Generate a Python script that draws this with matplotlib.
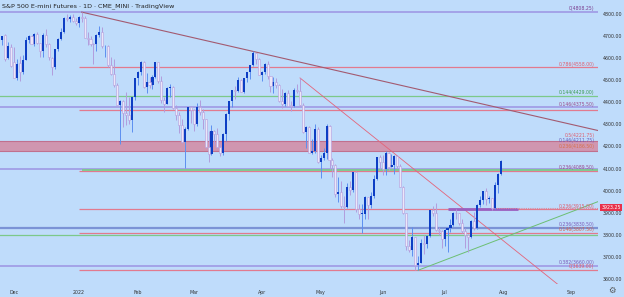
import matplotlib
matplotlib.use("Agg")
import matplotlib.pyplot as plt
import numpy as np

# -- Data ----------------------------------------------------------------------
# one bar per trading day: bar 0 = 2021-11-24, bar 169 = 2022-07-29
OPEN = [4680, 4705, 4600, 4650, 4580, 4512, 4578, 4538, 4592, 4684,
        4700, 4665, 4710, 4667, 4632, 4706, 4666, 4600, 4560, 4640,
        4688, 4718, 4782, 4776, 4784, 4769, 4758, 4786, 4781, 4692,
        4686, 4666, 4663, 4706, 4720, 4653, 4655, 4570, 4526, 4477,
        4389, 4406, 4350, 4342, 4318, 4425, 4508, 4539, 4584, 4470,
        4493, 4477, 4515, 4580, 4497, 4412, 4394, 4465, 4468, 4373,
        4342, 4298, 4220, 4281, 4378, 4367, 4300, 4380, 4358, 4323,
        4196, 4165, 4272, 4254, 4198, 4168, 4254, 4349, 4404, 4455,
        4452, 4503, 4448, 4511, 4535, 4567, 4623, 4594, 4524, 4538,
        4574, 4517, 4472, 4493, 4480, 4405, 4390, 4440, 4385, 4384,
        4455, 4452, 4388, 4266, 4290, 4170, 4178, 4280, 4128, 4149,
        4168, 4294, 4140, 4116, 3985, 3994, 3928, 3925, 4018, 4002,
        4083, 3918, 3895, 3896, 3969, 3936, 3975, 4053, 4153, 4129,
        4097, 4172, 4106, 4118, 4158, 4113, 4016, 3899, 3748, 3732,
        3788, 3665, 3674, 3763, 3758, 3793, 3910, 3898, 3820, 3817,
        3783, 3823, 3829, 3844, 3900, 3897, 3851, 3816, 3800, 3789,
        3862, 3830, 3936, 3959, 3997, 3962, 3966, 3923, 4025, 4074]
HIGH = [4702, 4708, 4672, 4662, 4652, 4596, 4608, 4612, 4694, 4705,
        4703, 4713, 4718, 4670, 4712, 4731, 4670, 4605, 4642, 4690,
        4735, 4785, 4800, 4797, 4799, 4780, 4790, 4808.25, 4790, 4718,
        4702, 4670, 4708, 4744, 4739, 4660, 4658, 4605, 4596, 4488,
        4412, 4408, 4448, 4423, 4426, 4510, 4541, 4588, 4587, 4533,
        4515, 4525, 4583, 4583, 4520, 4422, 4468, 4484, 4472, 4388,
        4356, 4323, 4289, 4378, 4382, 4370, 4395, 4410, 4368, 4325,
        4270, 4295, 4275, 4285, 4212, 4262, 4350, 4405, 4456, 4472,
        4514, 4505, 4511, 4538, 4569, 4631, 4625, 4600, 4540, 4576,
        4585, 4520, 4515, 4512, 4484, 4462, 4446, 4454, 4404, 4463,
        4482, 4508, 4395, 4292, 4293, 4232, 4300, 4290, 4163, 4194,
        4303, 4298, 4148, 4120, 4063, 4042, 3975, 4035, 4042, 4085,
        4088, 3940, 3938, 3976, 3972, 3995, 4070, 4154, 4162, 4163,
        4177, 4174, 4165, 4162, 4160, 4120, 4020, 3900, 3775, 3835,
        3790, 3706, 3779, 3799, 3800, 3912, 3928, 3945, 3836, 3820,
        3828, 3835, 3870, 3905, 3918, 3900, 3872, 3830, 3802, 3866,
        3903, 3940, 3974, 3998, 4013, 3975, 3968, 4040, 4080, 4140]
LOW = [4659, 4585, 4595, 4560, 4508, 4500, 4495, 4528, 4590, 4670,
       4662, 4655, 4664, 4606, 4605, 4650, 4590, 4522, 4550, 4630,
       4682, 4712, 4770, 4765, 4762, 4750, 4740, 4762, 4690, 4660,
       4655, 4575, 4630, 4696, 4645, 4607, 4560, 4522, 4468, 4387,
       4212.75, 4290, 4296, 4303, 4265, 4410, 4478, 4525, 4464, 4444,
       4465, 4459, 4512, 4485, 4395, 4358, 4390, 4423, 4368, 4320,
       4262, 4215, 4101, 4275, 4308, 4272, 4292, 4340, 4280, 4193,
       4130, 4160, 4205, 4194, 4155, 4160, 4225, 4320, 4380, 4415,
       4448, 4445, 4440, 4490, 4505, 4562, 4572, 4522, 4498, 4530,
       4505, 4445, 4440, 4466, 4400, 4375, 4385, 4382, 4362, 4378,
       4443, 4380, 4262, 4195, 4168, 4165, 4170, 4124, 4056, 4140,
       4142, 4100, 4060, 3970, 3950, 3922, 3855, 3920, 3978, 3995,
       3905, 3870, 3807.5, 3870, 3873, 3920, 3968, 4050, 4100, 4070,
       4070, 4095, 4105, 4075, 4104, 4014, 3895, 3732, 3720, 3705,
       3639.5, 3639, 3670, 3715, 3740, 3790, 3887, 3818, 3798, 3738,
       3750, 3723, 3813, 3838, 3872, 3845, 3810, 3741, 3721, 3785,
       3820, 3825, 3925, 3940, 3935, 3944, 3910, 3915, 3990, 4070]
CLOSE = [4699, 4594, 4653, 4566, 4511, 4575, 4536, 4590, 4684, 4700,
         4664, 4710, 4667, 4632, 4706, 4666, 4605, 4560, 4640, 4688,
         4718, 4782, 4776, 4784, 4769, 4758, 4786, 4781, 4692, 4686,
         4666, 4663, 4706, 4720, 4653, 4655, 4570, 4526, 4477, 4389,
         4406, 4350, 4342, 4318, 4425, 4508, 4539, 4584, 4470, 4493,
         4477, 4515, 4580, 4497, 4412, 4394, 4465, 4468, 4373, 4342,
         4298, 4220, 4281, 4378, 4367, 4300, 4380, 4358, 4323, 4196,
         4165, 4272, 4254, 4198, 4168, 4254, 4349, 4404, 4455, 4452,
         4503, 4448, 4511, 4535, 4567, 4623, 4594, 4524, 4538, 4574,
         4517, 4472, 4493, 4480, 4405, 4390, 4440, 4385, 4384, 4455,
         4452, 4388, 4266, 4290, 4170, 4178, 4280, 4128, 4149, 4168,
         4294, 4140, 4116, 3985, 3994, 3928, 3925, 4018, 4002, 4083,
         3918, 3895, 3896, 3969, 3936, 3975, 4053, 4153, 4129, 4097,
         4172, 4106, 4118, 4158, 4113, 4016, 3899, 3748, 3732, 3788,
         3665, 3674, 3763, 3758, 3793, 3910, 3898, 3820, 3817, 3783,
         3823, 3829, 3844, 3900, 3897, 3851, 3816, 3800, 3789, 3862,
         3830, 3936, 3959, 3997, 3962, 3966, 3923.25, 4025, 4074, 4132]

MONTH_BARS = [4, 26, 46, 65, 88, 108, 129, 150, 170, 193]
MONTH_LABELS = ["Dec", "2022", "Feb", "Mar", "Apr", "May", "Jun", "Jul", "Aug", "Sep"]
PRICE_TICKS = [3600, 3700, 3800, 3900, 4000, 4100, 4200, 4300, 4400, 4500, 4600, 4700, 4800]

# retracement levels drawn across the whole chart
FULL_PURPLE = [4808.25, 4379.50, 4099.00, 3660.00]
FULL_GREEN = [4429.00, 3800.00]
FULL_BLUE = [3830.50]
# retracement levels drawn from the 2022 open
JAN_RED = [4558.00, 4365.50, 4089.50, 3915.00, 3807.50, 3639.00]
JAN_GREEN = [4094.50]
ZONE = (4180.00, 4224.00)

FIB_TEXT = ["0(4808.25)", "0.786(4558.00)", "0.144(4429.00)", "0.146(4375.50)",
            "0.5(4221.75)", "0.146(4211.75)", "0.236(4186.50)", "0.236(4089.50)",
            "0.236(3915.00)", "0.236(3830.50)", "0.146(3807.50)", "0.382(3660.00)",
            "0(3639.00)"]
FIB_PRICE = [4808.25, 4558.00, 4429.00, 4375.50, 4221.75, 4211.75, 4186.50,
             4089.50, 3915.00, 3830.50, 3807.50, 3660.00, 3639.00]

# trendline anchors (bar, price)
TL_DOWN_BARS, TL_DOWN_PRICES = [27, 202], [4808.25, 4272]
TL_RED_BARS, TL_RED_PRICES = [101, 190], [4510, 3558]
TL_UP_BARS, TL_UP_PRICES = [141, 202], [3639, 3950]
SEG_BARS, SEG_PRICE = [151, 175], 3917
LAST_BAR, LAST_PRICE = 166, 3923.25

# -- Styles --------------------------------------------------------------------
BG = "#bfdcfb"
UP_BODY, UP_WICK = "#0d3ec4", "#5c8ff0"
DN_BODY, DN_EDGE = "#ece6f8", "#b29ddd"
PURPLE, RED, GREEN, BLUE = "#9d94e3", "#e27a8e", "#7cc98a", "#7b93d6"
FIB_COLORS = ["#7a3d8f", "#e05c6c", "#3c9c50", "#9a4a8a", "#e05c6c", "#6a5ab8",
              "#d8704a", "#9a4a8a", "#e05c6c", "#7a5ab8", "#d8604a", "#7a5ab8",
              "#e05c6c"]
# vertical nudge of each label (points) so the stacked zone labels stay legible
FIB_DY = [0.6, 0.6, 0.6, 0.6, 2.6, 0.4, 0.6, 0.6, 0.6, 0.6, 0.6, 0.6, 0.6]

W, H = 624, 297
fig = plt.figure(figsize=(W / 100, H / 100), dpi=100, facecolor=BG)
ax = fig.add_axes([0, 1 - 284 / H, 598 / W, 284 / H])
ax.set_facecolor(BG)
x_left, x_right = -0.68, 202.0
ax.set_xlim(x_left, x_right)
ax.set_ylim(3577, 4863)

# horizontal levels
ax.axhspan(*ZONE, color="#d48aa3", alpha=0.85, lw=0, zorder=1)
for p in ZONE:
    ax.axhline(p, color="#c0708e", lw=0.8, zorder=1.2)
for p in FULL_PURPLE:
    ax.axhline(p, color=PURPLE, lw=1.1, zorder=1.5)
for p in FULL_GREEN:
    ax.axhline(p, color=GREEN, lw=0.9, zorder=1.5)
for p in FULL_BLUE:
    ax.axhline(p, color=BLUE, lw=1.6, zorder=1.5)
for p in JAN_RED:
    ax.hlines(p, 26, x_right, color=RED, lw=0.9, zorder=1.5)
for p in JAN_GREEN:
    ax.hlines(p, 27, x_right, color=GREEN, lw=1.3, zorder=1.5)

# trendlines
ax.plot(TL_DOWN_BARS, TL_DOWN_PRICES, color="#a35a70", lw=0.8, zorder=2)
ax.plot(TL_RED_BARS, TL_RED_PRICES, color="#e4647a", lw=0.6, zorder=2)
ax.plot(TL_UP_BARS, TL_UP_PRICES, color="#6cbf72", lw=0.7, zorder=2)
ax.hlines(SEG_PRICE, SEG_BARS[0], SEG_BARS[1], color="#9b5fc0", lw=2.0, zorder=2)
ax.hlines(LAST_PRICE, LAST_BAR, x_right, color="#d98ca0", lw=0.8,
          linestyles=(0, (1, 1)), zorder=2)

# candles
o, h, l, c = map(np.asarray, (OPEN, HIGH, LOW, CLOSE))
idx = np.arange(len(o))
up = c >= o
ax.vlines(idx[up], l[up], h[up], color=UP_WICK, lw=0.7, zorder=3)
ax.vlines(idx[~up], l[~up], h[~up], color=DN_EDGE, lw=0.7, zorder=3)
body_lo = np.minimum(o, c)
body_h = np.maximum(np.abs(c - o), 2)
ax.bar(idx[up], body_h[up], bottom=body_lo[up], width=0.7,
       color=UP_BODY, lw=0, zorder=4)
ax.bar(idx[~up], body_h[~up], bottom=body_lo[~up], width=0.7,
       color=DN_BODY, edgecolor=DN_EDGE, lw=0.4, zorder=4)

# level labels
for txt, p, col, dy in zip(FIB_TEXT, FIB_PRICE, FIB_COLORS, FIB_DY):
    ax.annotate(txt, (x_right, p), xytext=(-2.5, dy), textcoords="offset points",
                ha="right", va="bottom", fontsize=3.3, color=col, zorder=5)

# axes / ticks
for s in ax.spines.values():
    s.set_visible(False)
ax.yaxis.tick_right()
ax.set_yticks(PRICE_TICKS)
ax.set_yticklabels([f"{v:.2f}" for v in PRICE_TICKS])
ax.set_xticks(MONTH_BARS)
ax.set_xticklabels(MONTH_LABELS)
ax.tick_params(axis="y", length=0, pad=3.6, labelsize=3.4, labelcolor="#333333")
ax.tick_params(axis="x", length=0, pad=4.0, labelsize=3.4, labelcolor="#333333")

ax.annotate(f"{LAST_PRICE:.2f}", (1.0, LAST_PRICE), xycoords=("axes fraction", "data"),
            xytext=(2.5, 0), textcoords="offset points", ha="left", va="center",
            fontsize=3.4, color="white",
            bbox=dict(boxstyle="square,pad=0.3", fc="#e8304a", ec="none"),
            annotation_clip=False, zorder=6)

fig.text(2 / W, 1 - 6 / H, "S&P 500 E-mini Futures \u00b7 1D \u00b7 CME_MINI \u00b7 TradingView",
         fontsize=4.6, color="#222222", va="center", ha="left")
fig.text(612 / W, 1 - 290 / H, "\u2699", fontsize=6, color="#555555",
         ha="center", va="center")

fig.savefig("out.png", dpi=100, facecolor=BG)
